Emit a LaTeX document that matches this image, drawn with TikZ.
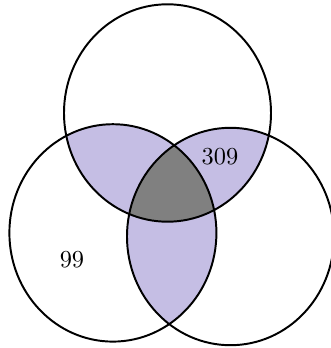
\documentclass[tikz,border=0pt]{standalone}
\definecolor{lav}{RGB}{197,190,228}
\definecolor{midgray}{RGB}{128,128,128}
\begin{document}
\begin{tikzpicture}[x=0.41pt,y=-0.41pt,
  outline/.style={draw=black,line width=0.8pt},
  lbl/.style={font=\normalsize,inner sep=0pt}]
\useasboundingbox (0,0) rectangle (330,348);
\def\Tc{(167.5,113) ellipse [x radius=42.44pt, y radius=44.57pt]}
\def\Lc{(112.9,232.9) ellipse [x radius=42.44pt, y radius=44.57pt]}
\def\Rc{(230.5,236.5) ellipse [x radius=42.44pt, y radius=44.57pt]}
\begin{scope}
  \clip \Tc;
  \fill[lav] \Lc;
  \fill[lav] \Rc;
\end{scope}
\begin{scope}
  \clip \Lc;
  \fill[lav] \Rc;
\end{scope}
\begin{scope}
  \clip \Tc;
  \clip \Lc;
  \fill[midgray] \Rc;
\end{scope}
\draw[outline] \Tc;
\draw[outline] \Lc;
\draw[outline] \Rc;
\node[lbl] (n309) at (220,157) {309};
\node[lbl] (n99) at (72,260) {99};
\end{tikzpicture}
\end{document}
